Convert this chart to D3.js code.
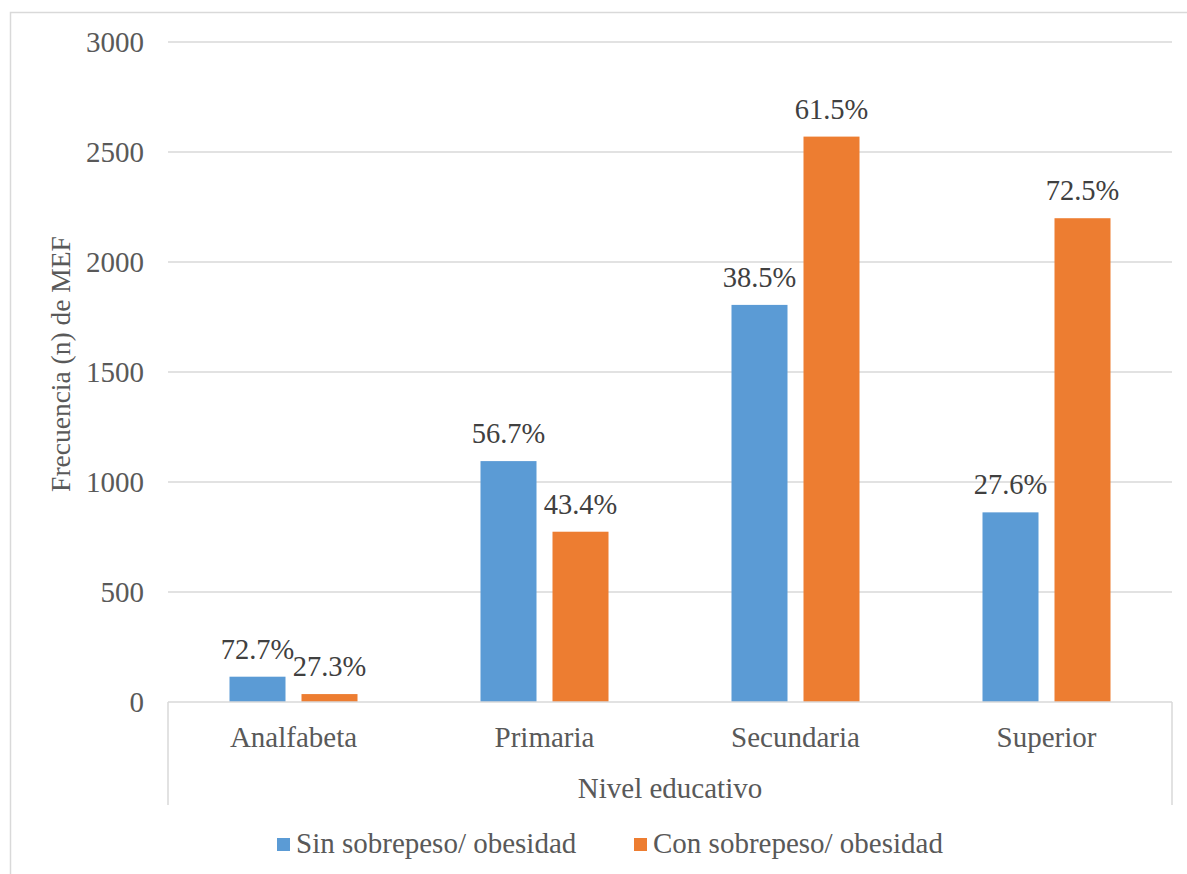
<!DOCTYPE html>
<html>
<head>
<meta charset="utf-8">
<script src="https://cdn.jsdelivr.net/npm/d3@7"></script>
<style>
  html, body { margin: 0; padding: 0; background: #fff; }
  svg { display: block; font-family: "Liberation Serif", "Times New Roman", serif; }
</style>
</head>
<body>
<svg id="chart" width="1187" height="874"></svg>
<script>
// Education levels and the two groups of women (MEF)
const categories = ["Analfabeta", "Primaria", "Secundaria", "Superior"];
const seriesNames = ["Sin sobrepeso/ obesidad", "Con sobrepeso/ obesidad"];
const sinValues = [115, 1095, 1805, 862];
const conValues = [36, 774, 2570, 2199];
const sinPercent = ["72.7%", "56.7%", "38.5%", "27.6%"];
const conPercent = ["27.3%", "43.4%", "61.5%", "72.5%"];
const yTicks = [0, 500, 1000, 1500, 2000, 2500, 3000];
const colors = ["#5B9BD5", "#ED7D31"];

const svg = d3.select("#chart");
const plotLeft = 168, plotRight = 1172, plotTop = 42, plotBottom = 702, axisBoxBottom = 805;
const gridColor = "#d9d9d9";

// chart frame
svg.append("rect")
  .attr("x", 10.5).attr("y", 12.5)
  .attr("width", 1200).attr("height", 900)
  .attr("fill", "none").attr("stroke", gridColor).attr("stroke-width", 1.5);

const y = d3.scaleLinear().domain([0, 3000]).range([plotBottom, plotTop]);
const x0 = d3.scaleBand().domain(categories).range([plotLeft, plotRight])
  .paddingInner(0.49).paddingOuter(0.245);
const x1 = d3.scaleBand().domain([0, 1]).range([0, x0.bandwidth()])
  .paddingInner(16 / 72).paddingOuter(0);

// horizontal gridlines
svg.append("g").selectAll("line")
  .data(yTicks.filter(d => d > 0))
  .join("line")
  .attr("x1", plotLeft).attr("x2", plotRight)
  .attr("y1", d => y(d)).attr("y2", d => y(d))
  .attr("stroke", gridColor).attr("stroke-width", 1.5);

// y axis labels
const yAxis = svg.append("g")
  .attr("transform", `translate(${plotLeft},0)`)
  .call(d3.axisLeft(y).tickValues(yTicks).tickSize(0).tickPadding(24).tickFormat(d3.format("d")));
yAxis.select(".domain").remove();
yAxis.selectAll("text")
  .attr("fill", "#595959").attr("font-size", 29)
  .attr("font-family", "Liberation Serif, Times New Roman, serif");

// y axis title
svg.append("text")
  .attr("transform", `translate(70,${(plotTop + plotBottom) / 2 - 8}) rotate(-90)`)
  .attr("text-anchor", "middle")
  .attr("fill", "#595959").attr("font-size", 27.5)
  .text("Frecuencia (n) de MEF");

// grouped bars
const rows = categories.map((c, i) => ({
  cat: c,
  vals: [sinValues[i], conValues[i]],
  pcts: [sinPercent[i], conPercent[i]]
}));

const groups = svg.append("g").selectAll("g")
  .data(rows).join("g")
  .attr("transform", d => `translate(${x0(d.cat)},0)`);

groups.selectAll("rect")
  .data(d => d.vals.map((v, k) => ({ v, k })))
  .join("rect")
  .attr("x", d => x1(d.k))
  .attr("width", x1.bandwidth())
  .attr("y", d => y(d.v))
  .attr("height", d => y(0) - y(d.v))
  .attr("fill", d => colors[d.k]);

groups.selectAll("text.pct")
  .data(d => d.vals.map((v, k) => ({ v, k, p: d.pcts[k] })))
  .join("text")
  .attr("class", "pct")
  .attr("x", d => x1(d.k) + x1.bandwidth() / 2)
  .attr("y", d => y(d.v) - 18)
  .attr("text-anchor", "middle")
  .attr("fill", "#404040").attr("font-size", 28.5)
  .text(d => d.p);

// category axis box
const xAxisG = svg.append("g");
xAxisG.append("line")
  .attr("x1", plotLeft).attr("x2", plotRight).attr("y1", plotBottom).attr("y2", plotBottom)
  .attr("stroke", gridColor).attr("stroke-width", 1.5);
[plotLeft, plotRight].forEach(xv => {
  xAxisG.append("line")
    .attr("x1", xv).attr("x2", xv).attr("y1", plotBottom).attr("y2", axisBoxBottom)
    .attr("stroke", gridColor).attr("stroke-width", 1.5);
});

svg.append("g").selectAll("text")
  .data(categories).join("text")
  .attr("x", d => x0(d) + x0.bandwidth() / 2)
  .attr("y", 747)
  .attr("text-anchor", "middle")
  .attr("fill", "#595959").attr("font-size", 29)
  .text(d => d);

// x axis title
svg.append("text")
  .attr("x", (plotLeft + plotRight) / 2).attr("y", 798)
  .attr("text-anchor", "middle")
  .attr("fill", "#595959").attr("font-size", 29)
  .text("Nivel educativo");

// legend
const legendX = [277, 634];
const legend = svg.append("g").selectAll("g")
  .data(seriesNames).join("g")
  .attr("transform", (d, i) => `translate(${legendX[i]},0)`);
legend.append("rect")
  .attr("x", 0).attr("y", 838).attr("width", 13).attr("height", 13)
  .attr("fill", (d, i) => colors[i]);
legend.append("text")
  .attr("x", 19).attr("y", 853)
  .attr("fill", "#595959").attr("font-size", 29)
  .text(d => d);
</script>
</body>
</html>
